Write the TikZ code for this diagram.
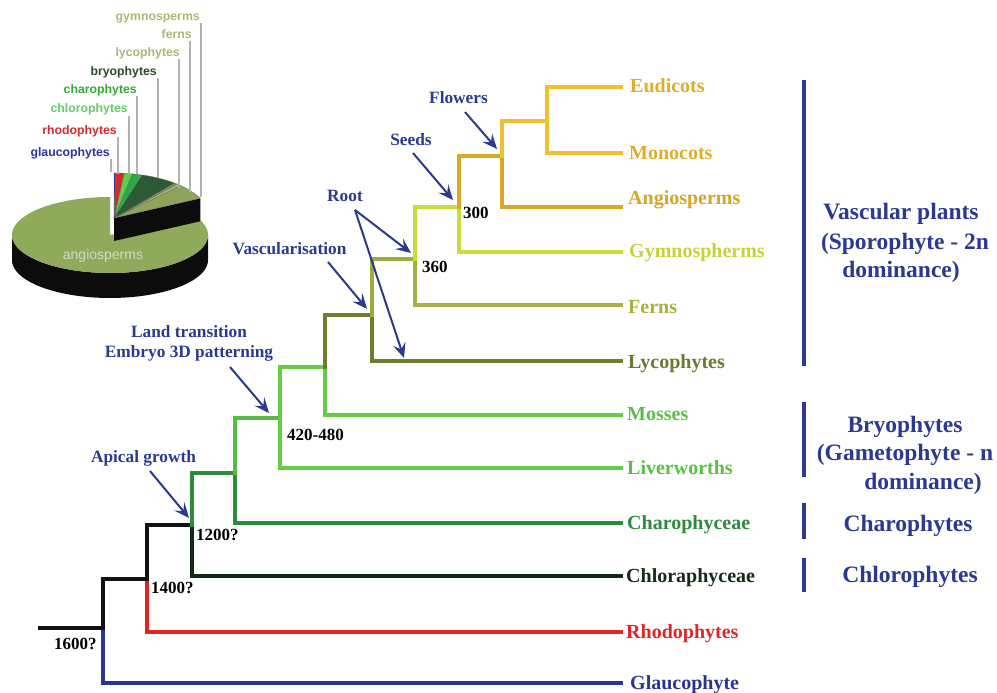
\documentclass[tikz,border=0pt]{standalone}
\usepackage{fontspec}
\setmainfont{Liberation Serif}
\newfontfamily\piefont{Liberation Sans}
\usetikzlibrary{arrows.meta}
\definecolor{annblue}{HTML}{2B3990}
\definecolor{ceu}{HTML}{F0C030}
\definecolor{can}{HTML}{D9A826}
\definecolor{cgy}{HTML}{CADC3A}
\definecolor{cfe}{HTML}{A8B040}
\definecolor{col2}{HTML}{9CAF3A}
\definecolor{col}{HTML}{6E7D30}
\definecolor{cg4}{HTML}{66CC44}
\definecolor{cg3}{HTML}{55BB44}
\definecolor{cg2}{HTML}{2E8B3C}
\definecolor{cdk}{HTML}{142814}
\definecolor{cblk}{HTML}{111111}
\definecolor{cred}{HTML}{E52222}
\definecolor{cblue}{HTML}{2A3590}
\definecolor{teu}{HTML}{DDAE2A}
\definecolor{tan}{HTML}{D4A628}
\definecolor{tgy}{HTML}{C4D436}
\definecolor{tfe}{HTML}{A8B040}
\definecolor{tly}{HTML}{6B7A30}
\definecolor{tmo}{HTML}{5CBF45}
\definecolor{tch}{HTML}{2E8B3C}
\definecolor{tcl}{HTML}{1A2A1A}
\definecolor{tre}{HTML}{E02626}
\definecolor{tgl}{HTML}{2A3590}
\definecolor{angcol}{HTML}{8FAA5A}
\definecolor{pieside}{HTML}{0C0C0C}
\definecolor{angtxt}{HTML}{D4DCC4}
\definecolor{pgym}{HTML}{8EA35C}
\definecolor{pfern}{HTML}{A4B474}
\definecolor{plyc}{HTML}{7E9450}
\definecolor{pbry}{HTML}{2D5A36}
\definecolor{pcha}{HTML}{2EA84A}
\definecolor{pchl}{HTML}{5AD04A}
\definecolor{prho}{HTML}{D42A2A}
\definecolor{pgla}{HTML}{2A35A0}
\definecolor{lgym}{HTML}{A8B878}
\definecolor{lbry}{HTML}{2D4A2D}
\definecolor{lcha}{HTML}{33AA33}
\definecolor{lchl}{HTML}{66CC66}
\begin{document}
\begin{tikzpicture}[x=1pt,y=-1pt,
  br/.style={line width=4pt, line cap=rect, line join=miter},
  leaf/.style={anchor=west, font=\fontsize{20}{24}\selectfont\bfseries, inner sep=0pt, text height=13.5pt, text depth=0pt},
  ann/.style={font=\fontsize{17.3}{21}\selectfont\bfseries, text=annblue, inner sep=0pt, text height=8pt, text depth=0pt},
  num/.style={font=\fontsize{17}{20}\selectfont\bfseries, inner sep=0pt, anchor=west, text height=11.5pt, text depth=0pt},
  grp/.style={font=\fontsize{23.5}{29}\selectfont\bfseries, text=annblue, inner sep=0pt, text height=15.5pt, text depth=0pt},
  arr/.style={draw=annblue, line width=2pt, -{Stealth[length=15pt,width=13pt,inset=6pt]}},
  bar/.style={draw=annblue, line width=3.5pt},
  pielab/.style={font=\piefont\bfseries\fontsize{12.3}{14}\selectfont, anchor=east, inner sep=0pt, text height=8.8pt, text depth=0pt},
  lead/.style={draw=gray!60, line width=1.2pt}]
\useasboundingbox (0,0) rectangle (997,693);

% ---------------- pie chart ----------------
\fill[pieside] plot[domain=180:360,samples=60] ({110+98*cos(\x)},{235-38*sin(\x)})
  -- plot[domain=360:180,samples=60] ({110+98*cos(\x)},{260-38*sin(\x)}) -- cycle;
\fill[angcol] (110,235) -- plot[domain=90:386,samples=150] ({110+98*cos(\x)},{235-38*sin(\x)}) -- cycle;
\fill[pieside] (114,218) -- ({114+96*cos(26)},{218-45*sin(26)}) -- ++(0,23) -- (114,241) -- cycle;
\foreach \a/\b/\c in {26/46/pgym, 46/49/pfern, 49/51/plyc, 51/73/pbry, 73/79/pcha, 79/84/pchl, 84/89/prho, 89/90/pgla}
  \filldraw[fill=\c, draw=black!60, line width=0.3pt] (114,218) -- plot[domain=\a:\b,samples=20] ({114+96*cos(\x)},{218-45*sin(\x)}) -- cycle;
\node[font=\piefont\fontsize{14}{16}\selectfont, text=angtxt, inner sep=0pt] (angl) at (103,256) {angiosperms};

\node[pielab, text=lgym] (pl1) at (200,16) {gymnosperms};
\node[pielab, text=lgym] (pl2) at (192,34) {ferns};
\node[pielab, text=lgym] (pl3) at (180,52) {lycophytes};
\node[pielab, text=lbry] (pl4) at (157,71) {bryophytes};
\node[pielab, text=lcha] (pl5) at (137,89) {charophytes};
\node[pielab, text=lchl] (pl6) at (128,108) {chlorophytes};
\node[pielab, text=prho] (pl7) at (117,130) {rhodophytes};
\node[pielab, text=pgla] (pl8) at (110,152) {glaucophytes};
\draw[lead] (201,23) -- (201,197);
\draw[lead] (190,41) -- (190,192);
\draw[lead] (179,59) -- (179,188);
\draw[lead] (158,78) -- (158,178);
\draw[lead] (137,96) -- (137,174);
\draw[lead] (129,116) -- (129,174);
\draw[lead] (118,137) -- (118,174);
\draw[lead] (111,159) -- (111,172);

% ---------------- tree coordinates ----------------
\coordinate (r) at (40,628);
\coordinate (j0) at (103,628);
\coordinate (j1) at (147,579);
\coordinate (j2) at (192,525);
\coordinate (j3) at (235,473);
\coordinate (j4) at (280,418);
\coordinate (j5) at (325,367);
\coordinate (j6) at (372,315);
\coordinate (j7) at (415,259);
\coordinate (j8) at (459,207);
\coordinate (j9) at (502,156);
\coordinate (j10) at (547,121);
\coordinate (lE) at (621,87);
\coordinate (lM) at (621,153);
\coordinate (lA) at (621,207);
\coordinate (lG) at (621,252);
\coordinate (lF) at (621,305);
\coordinate (lL) at (621,361);
\coordinate (lMo) at (621,415);
\coordinate (lLi) at (621,468);
\coordinate (lCh) at (621,523);
\coordinate (lCl) at (621,576);
\coordinate (lR) at (621,632);
\coordinate (lGl) at (621,683);

% ---------------- branches ----------------
\draw[br, cblue] (j0) |- (lGl);
\draw[br, cred] (j1) |- (lR);
\draw[br, cblk] (r) -- (j0) |- (j1);
\draw[br, cdk] (j2) |- (lCl);
\draw[br, cblk] (j1) |- (j2);
\draw[br, cg2] (j3) |- (lCh);
\draw[br, cg2] (j2) |- (j3);
\draw[br, cg4] (j4) |- (lLi);
\draw[br, cg3] (j3) |- (j4);
\draw[br, cg4] (j5) |- (lMo);
\draw[br, cg4] (j4) |- (j5);
\draw[br, col] (j6) |- (lL);
\draw[br, col] (j5) |- (j6);
\draw[br, cfe] (j7) |- (lF);
\draw[br, col2] (j6) |- (j7);
\draw[br, cgy] (j8) |- (lG);
\draw[br, cgy] (j7) |- (j8);
\draw[br, can] (j9) |- (lA);
\draw[br, can] (j8) |- (j9);
\draw[br, ceu] (j10) |- (lE);
\draw[br, ceu] (j10) |- (lM);
\draw[br, ceu] (j9) |- (j10);

% ---------------- leaf labels ----------------
\node[leaf, text=teu] (tE) at (630,86) {Eudicots};
\node[leaf, text=teu] (tM) at (629,153) {Monocots};
\node[leaf, text=tan] (tA) at (628,198) {Angiosperms};
\node[leaf, text=tgy] (tG) at (629,251) {Gymnospherms};
\node[leaf, text=tfe] (tF) at (628,307) {Ferns};
\node[leaf, text=tly] (tL) at (628,362) {Lycophytes};
\node[leaf, text=tmo] (tMo) at (627,414) {Mosses};
\node[leaf, text=tmo] (tLi) at (627,468) {Liverworths};
\node[leaf, text=tch] (tCh) at (627,523) {Charophyceae};
\node[leaf, text=tcl] (tCl) at (626,576) {Chloraphyceae};
\node[leaf, text=tre] (tR) at (626,632) {Rhodophytes};
\node[leaf, text=tgl] (tGl) at (630,683) {Glaucophyte};

% ---------------- ages ----------------
\node[num] (n300) at (463,213) {300};
\node[num] (n360) at (422,267) {360};
\node[num] (n420) at (287,435) {420-480};
\node[num] (n1200) at (196,535) {1200?};
\node[num] (n1400) at (151,588) {1400?};
\node[num] (n1600) at (54,644) {1600?};

% ---------------- annotations ----------------
\node[ann] (aF) at (458.5,99) {Flowers};
\node[ann] (aS) at (411,141) {Seeds};
\node[ann] (aR) at (345,197) {Root};
\node[ann] (aV) at (289.5,250) {Vascularisation};
\node[ann] (aL1) at (189,333) {Land transition};
\node[ann] (aL2) at (189,353) {Embryo 3D patterning};
\node[ann] (aA) at (143.5,458) {Apical growth};

\coordinate (sF) at (465,112); \coordinate (tipF) at (497,149);
\coordinate (sS) at (413,153); \coordinate (tipS) at (453,200);
\coordinate (sR) at (355,210); \coordinate (tipR1) at (411,253); \coordinate (tipR2) at (404,358);
\coordinate (sV) at (328,262); \coordinate (tipV) at (367,309);
\coordinate (sL) at (230,367); \coordinate (tipL) at (269,413);
\coordinate (sA) at (150,471); \coordinate (tipA) at (189,518);
\draw[arr] (sF) -- (tipF);
\draw[arr] (sS) -- (tipS);
\draw[arr] (sR) -- (tipR1);
\draw[arr] (sR) -- (tipR2);
\draw[arr] (sV) -- (tipV);
\draw[arr] (sL) -- (tipL);
\draw[arr] (sA) -- (tipA);

% ---------------- groups ----------------
\draw[bar] (804,80) -- (804,366);
\draw[bar] (804,402) -- (804,477);
\draw[bar] (804,503) -- (804,539);
\draw[bar] (804,558) -- (804,592);
\node[grp] (g1a) at (901,212) {Vascular plants};
\node[grp] (g1b) at (905,242) {(Sporophyte - 2n};
\node[grp] (g1c) at (901,270) {dominance)};
\node[grp] (g2a) at (905,425) {Bryophytes};
\node[grp] (g2b) at (905,453) {(Gametophyte - n};
\node[grp] (g2c) at (923,482) {dominance)};
\node[grp] (g3) at (908,524) {Charophytes};
\node[grp] (g4) at (910,575) {Chlorophytes};
\end{tikzpicture}
\end{document}
